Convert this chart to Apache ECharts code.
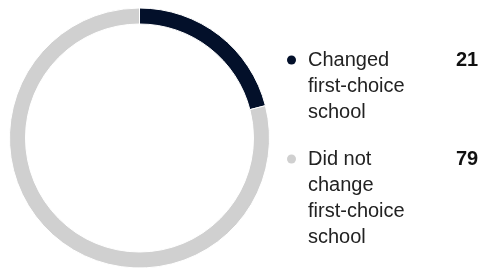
<!DOCTYPE html>
<html>
<head>
<meta charset="utf-8">
<script src="https://cdn.jsdelivr.net/npm/echarts@6/dist/echarts.min.js"></script>
<style>
  html, body { margin: 0; padding: 0; background: #fff; }
  #chart { width: 482px; height: 270px; }
</style>
</head>
<body>
<div id="chart"></div>
<script>
// share of respondents, %
const categories = ['Changed\nfirst-choice\nschool', 'Did not\nchange\nfirst-choice\nschool'];
const values = [21, 79];
const colors = ['#03102a', '#d0d0d0'];

const chart = echarts.init(document.getElementById('chart'));

// legend text: coloured dot on the first line only, value to the right
function legendLabel(name) {
    const idx = categories.indexOf(name);
    const lines = name.split('\n');
    return lines.map(function (line, i) {
        if (i === 0) {
            return '{dot' + idx + '|}{gap|}{n|' + line + '}{v|' + values[idx] + '}';
        }
        return '{ind|}{n|' + line + '}';
    }).join('\n');
}

const option = {
    animation: false,
    color: colors,
    legend: {
        orient: 'vertical',
        left: 281,
        top: 47,
        height: 223,
        padding: 0,
        itemGap: 21,
        itemWidth: 0,
        itemHeight: 0,
        selectedMode: false,
        data: categories,
        formatter: legendLabel,
        textStyle: {
            fontFamily: 'Liberation Sans',
            fontSize: 20,
            color: '#222',
            lineHeight: 26,
            rich: {
                dot0: { width: 9, height: 9, borderRadius: 5, backgroundColor: colors[0] },
                dot1: { width: 9, height: 9, borderRadius: 5, backgroundColor: colors[1] },
                gap: { width: 12 },
                ind: { width: 21 },
                n: { width: 148, fontSize: 20, color: '#222', lineHeight: 26, fontFamily: 'Liberation Sans' },
                v: { fontSize: 20, fontWeight: 'bold', color: '#111', lineHeight: 26, fontFamily: 'Liberation Sans' }
            }
        }
    },
    series: [{
        type: 'pie',
        center: [139.5, 138],
        radius: [114, 130],
        startAngle: 90,
        clockwise: true,
        label: { show: false },
        labelLine: { show: false },
        emphasis: { disabled: true },
        itemStyle: { borderColor: '#fff', borderWidth: 1 },
        data: categories.map(function (c, i) {
            return { name: c, value: values[i] };
        })
    }]
};

chart.setOption(option);
</script>
</body>
</html>
